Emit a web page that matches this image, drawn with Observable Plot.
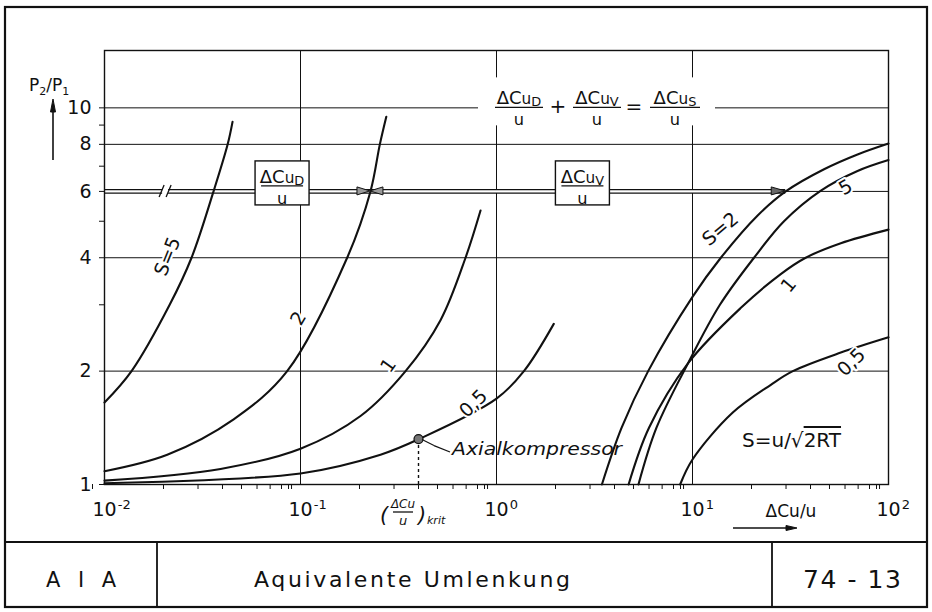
<!DOCTYPE html>
<html>
<head>
<meta charset="utf-8">
<script src="https://cdn.jsdelivr.net/npm/d3@7"></script>
<script src="https://cdn.jsdelivr.net/npm/@observablehq/plot@0.6"></script>
<style>
html, body { margin: 0; padding: 0; background: #fff; }
svg { display: block; }
</style>
</head>
<body>
<div id="chart"></div>
<script>
// ---------- tick values / labels ----------
const xTicks = [0.01, 0.1, 1, 10, 100];
const xTickExponents = ["-2", "-1", "0", "1", "2"];
const yTicks = [1, 2, 4, 6, 8, 10];
const yMinorTicks = [3, 5, 7, 9];
const xGrid = [0.1, 1, 10];
const yGrid = [2, 4, 8, 10];
const xMinorTicks = [];
for (const d of [0.01, 0.1, 1, 10]) for (let k = 2; k <= 9; k++) xMinorTicks.push(+(d * k).toPrecision(3));

// ---------- ΔCuD/u family (left), parameter S ----------
const dS5x  = [0.01, 0.01374, 0.0215, 0.0278, 0.036, 0.0425, 0.045];
const dS5y  = [1.65, 2.0, 3.0, 4.0, 6.0, 8.0, 9.18];
const dS2x  = [0.01, 0.0209, 0.0456, 0.0855, 0.173, 0.2275, 0.254, 0.274];
const dS2y  = [1.085, 1.20, 1.49, 2.0, 4.0, 6.0, 8.0, 9.47];
const dS1x  = [0.01, 0.0391, 0.1, 0.2024, 0.3436, 0.518, 0.695, 0.829];
const dS1y  = [1.024, 1.10, 1.245, 1.52, 2.0, 2.73, 4.0, 5.34];
const dS05x = [0.01, 0.1, 0.256, 0.402, 1.0, 1.38, 1.96];
const dS05y = [1.008, 1.07, 1.20, 1.32, 1.69, 2.0, 2.67];

// ---------- ΔCuv/u family (right), parameter S ----------
const vS2x  = [3.45, 4.35, 5.94, 10, 13.95, 21.5, 29.9, 46.9, 69.5, 100];
const vS2y  = [1.0, 1.415, 2.0, 3.15, 4.0, 5.18, 6.0, 6.87, 7.52, 8.04];
const vS5x  = [5.30, 6.55, 9.5, 13.8, 20.6, 29.3, 45.2, 69.5, 100];
const vS5y  = [1.0, 1.415, 2.1, 3.0, 4.0, 5.0, 6.03, 6.8, 7.27];
const vS1x  = [4.72, 6.0, 9.5, 17.6, 28.2, 37.8, 57.1, 100];
const vS1y  = [1.0, 1.415, 2.1, 2.94, 3.62, 4.0, 4.37, 4.75];
const vS05x = [8.65, 10, 16, 25.1, 32.5, 57.1, 100];
const vS05y = [1.0, 1.165, 1.55, 1.84, 2.0, 2.24, 2.46];

// Axialkompressor design point
const axialX = 0.4;
const axialY = 1.32;

// ---------- curve labels ----------
const curveLabelText = ["S=5", "2", "1", "0,5", "S=2", "5", "1", "0,5"];
const curveLabelX    = [0.021, 0.0977, 0.281, 0.763, 13.9, 60.4, 31, 64.7];
const curveLabelY    = [4.03, 2.76, 2.07, 1.64, 4.76, 6.15, 3.38, 2.11];
const curveLabelRot  = [-68, -60, -55, -45, -40, -30, -50, -45];

// ---------- build tables ----------
const curves = [];
function addCurve(key, xs, ys) { xs.forEach((x, i) => curves.push({key, x, y: ys[i]})); }
addCurve("D5", dS5x, dS5y);
addCurve("D2", dS2x, dS2y);
addCurve("D1", dS1x, dS1y);
addCurve("D05", dS05x, dS05y);
addCurve("V2", vS2x, vS2y);
addCurve("V5", vS5x, vS5y);
addCurve("V1", vS1x, vS1y);
addCurve("V05", vS05x, vS05y);
const labels = curveLabelText.map((t, i) => ({t, x: curveLabelX[i], y: curveLabelY[i], r: curveLabelRot[i]}));

const FONT = "DejaVu Sans, Liberation Sans, sans-serif";
const INK = "#111";
const bowtieX = dS2x[dS2y.indexOf(6)];
const arrowX = vS2x[vS2y.indexOf(6)];

const plot = Plot.plot({
  width: 932, height: 612,
  marginTop: 50, marginRight: 44, marginBottom: 128, marginLeft: 104,
  style: {fontFamily: FONT, fontSize: "19px", color: INK, background: "white", overflow: "visible"},
  x: {type: "log", domain: [0.01, 100], label: null},
  y: {type: "log", domain: [1, 14.2], label: null},
  marks: [
    Plot.ruleX(xGrid, {stroke: INK, strokeWidth: 1}),
    Plot.ruleY(yGrid, {stroke: INK, strokeWidth: 1}),
    Plot.ruleY([6], {stroke: INK, strokeWidth: 1}),
    Plot.ruleY([6], {x1: 0.01, x2: arrowX, stroke: INK, strokeWidth: 4.6}),
    Plot.ruleY([6], {x1: 0.01, x2: arrowX, stroke: "white", strokeWidth: 2.2}),
    Plot.frame({stroke: INK, strokeWidth: 1.4}),
    Plot.line(curves, {x: "x", y: "y", z: "key", stroke: INK, strokeWidth: 2.1, curve: "catmull-rom"}),
    Plot.ruleX([axialX], {y1: 1, y2: axialY, stroke: INK, strokeWidth: 1.4, strokeDasharray: "3,3"}),
    Plot.dot([{x: axialX, y: axialY}], {x: "x", y: "y", r: 4.5, fill: "#777", stroke: INK, strokeWidth: 1.2}),
    Plot.axisX({ticks: xMinorTicks, tickFormat: () => "", tickSize: 5, label: null}),
    Plot.axisX({ticks: xTicks, tickFormat: d => "10^" + xTickExponents[xTicks.indexOf(d)], tickSize: 5, tickPadding: 13,
                fontSize: 19, textAnchor: "start", dx: -12, label: null}),
    Plot.axisY({ticks: yMinorTicks, tickFormat: () => "", tickSize: 5, label: null}),
    Plot.axisY({ticks: yTicks, tickFormat: d => String(d), tickSize: 5, tickPadding: 8, fontSize: 19, label: null}),
    Plot.text(labels, {x: "x", y: "y", text: "t", rotate: "r", fontSize: 19, fill: INK,
                       stroke: "white", strokeWidth: 4, paintOrder: "stroke"})
  ]
});
document.getElementById("chart").append(plot);

// turn "10^e" tick labels into a base with a raised exponent
d3.select(plot).selectAll("text").each(function () {
  const s = this.textContent;
  if (/^10\^/.test(s)) {
    const e = s.slice(3);
    const t = d3.select(this);
    t.text(null);
    t.append("tspan").text("10");
    t.append("tspan").attr("font-size", 13).attr("dy", "-0.55em").attr("dx", 1).text(e);
  }
});

// ---------- annotations drawn through the plot's scales ----------
const sx = plot.scale("x"), sy = plot.scale("y");
const X = v => sx.apply(v), Y = v => sy.apply(v);
const svg = d3.select(plot);
const ann = svg.append("g").attr("font-family", FONT).attr("fill", INK);

function ln(x1, y1, x2, y2, w = 1.2) {
  return ann.append("line").attr("x1", x1).attr("y1", y1).attr("x2", x2).attr("y2", y2)
    .attr("stroke", INK).attr("stroke-width", w);
}
function txt(x, y, s, fs, anchor = "middle") {
  return ann.append("text").attr("x", x).attr("y", y).attr("font-size", fs).attr("text-anchor", anchor).text(s);
}
function poly(points, fill) {
  return ann.append("polygon").attr("points", points.map(p => p.join(",")).join(" "))
    .attr("fill", fill).attr("stroke", INK).attr("stroke-width", 1);
}
function fraction(cx, barY, sub, fs, barW) {
  const t = ann.append("text").attr("x", cx).attr("y", barY - 3).attr("font-size", fs).attr("text-anchor", "middle");
  t.append("tspan").text("ΔC");
  t.append("tspan").attr("font-size", fs * 0.85).text("u");
  t.append("tspan").attr("font-size", fs * 0.72).attr("dy", 2).text(sub);
  ln(cx - barW / 2, barY, cx + barW / 2, barY, 1.3);
  txt(cx, barY + fs * 0.98, "u", fs * 0.9);
}

// formula on the y = 10 line
const y10 = Y(10);
ann.append("rect").attr("x", 478).attr("y", y10 - 30).attr("width", 237).attr("height", 48).attr("fill", "white");
fraction(519, y10, "D", 18, 48);
txt(558, y10 + 6, "+", 20);
fraction(597, y10, "V", 18, 48);
txt(634, y10 + 6, "=", 20);
fraction(675, y10, "S", 18, 50);

// boxes on the y = 6 double line
const y6 = Y(6);
for (const [bx, sub] of [[0.081, "D"], [2.76, "V"]]) {
  const cx = X(bx);
  ann.append("rect").attr("x", cx - 27).attr("y", y6 - 30).attr("width", 54).attr("height", 44)
    .attr("fill", "white").attr("stroke", INK).attr("stroke-width", 1.4);
  fraction(cx, y6 - 5, sub, 18, 42);
}
// break marks on the double line
{
  const bx = X(0.0205);
  ann.append("rect").attr("x", bx - 3).attr("y", y6 - 4).attr("width", 6).attr("height", 8).attr("fill", "white");
  ln(bx - 6, y6 + 6, bx - 1, y6 - 6, 1.3);
  ln(bx + 1, y6 + 6, bx + 6, y6 - 6, 1.3);
}
// bowtie on the left family, arrow on the right family
{
  const bx = X(bowtieX);
  poly([[bx - 13, y6 - 4], [bx - 13, y6 + 4], [bx, y6], [bx + 13, y6 - 4], [bx + 13, y6 + 4], [bx, y6]], "#999");
  const ax = X(arrowX);
  poly([[ax - 14, y6 - 4], [ax - 14, y6 + 4], [ax, y6]], "#666");
}

// y axis title with arrow
{
  const t = ann.append("text").attr("x", 29).attr("y", 91).attr("font-size", 17).attr("text-anchor", "start");
  t.append("tspan").text("P");
  t.append("tspan").attr("font-size", 11).attr("dy", 4).text("2");
  t.append("tspan").attr("dy", -4).text("/");
  t.append("tspan").text("P");
  t.append("tspan").attr("font-size", 11).attr("dy", 4).text("1");
  ln(53, 160, 53, 108, 1.6);
  poly([[53, 99], [50.5, 112], [55.5, 112]], INK);
}

// Axialkompressor
{
  const px = X(axialX), py = Y(axialY);
  ln(px + 4, py + 1, px + 16, py + 7, 1.2);
  ln(px + 16, py + 7, 450, 452, 1.2);
  txt(452, 455, "Axialkompressor", 18, "start").attr("font-style", "italic")
    .attr("textLength", 170).attr("lengthAdjust", "spacingAndGlyphs");
}

// (ΔCu/u)krit under the axis
{
  const cx = X(axialX);
  txt(cx - 34, 522, "(", 21).attr("font-style", "italic");
  txt(cx - 15, 508, "ΔCu", 12).attr("font-style", "italic");
  ln(cx - 25, 512, cx - 5, 512, 1.3);
  txt(cx - 15, 525, "u", 13).attr("font-style", "italic");
  txt(cx + 4, 522, ")", 21).attr("font-style", "italic");
  txt(cx + 9, 524, "krit", 11, "start").attr("font-style", "italic");
}

// S = u / sqrt(2RT)
{
  const t = ann.append("text").attr("x", 742).attr("y", 447).attr("font-size", 20).attr("text-anchor", "start");
  t.append("tspan").text("S=u/√");
  t.append("tspan").attr("style", "text-decoration: overline").text("2RT");
}

// x axis title with arrow
txt(791, 517, "ΔCu/u", 17);
ln(733, 528, 788, 528, 1.6);
poly([[797, 528], [786, 525.5], [786, 530.5]], INK);

// outer frame and title block
ann.append("rect").attr("x", 5).attr("y", 7).attr("width", 922).attr("height", 600)
  .attr("fill", "none").attr("stroke", INK).attr("stroke-width", 2.2);
ln(5, 542, 927, 542, 2.2);
ln(157, 542, 157, 607, 1.8);
ln(772, 542, 772, 607, 1.8);
txt(81, 587, "A I A", 21).attr("textLength", 70).attr("lengthAdjust", "spacing");
txt(412, 587, "Aquivalente Umlenkung", 22).attr("textLength", 316).attr("lengthAdjust", "spacing");
txt(852, 588, "74 - 13", 25).attr("textLength", 98).attr("lengthAdjust", "spacing");
</script>
</body>
</html>
